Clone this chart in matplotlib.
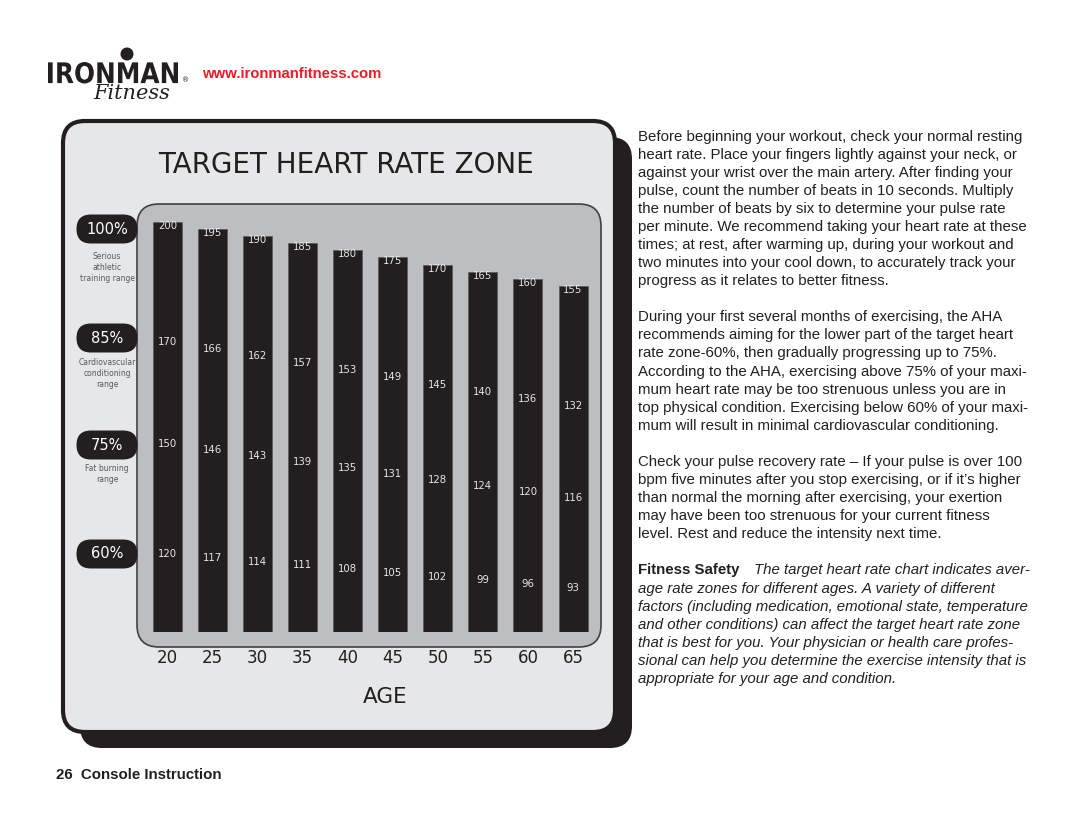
import numpy as np
import matplotlib
matplotlib.use('Agg')
import matplotlib.pyplot as plt
from matplotlib.patches import FancyBboxPatch, Circle, PathPatch
from matplotlib.textpath import TextPath
from matplotlib.font_manager import FontProperties
from matplotlib.transforms import Affine2D

# dados da tabela (batimentos por minuto por idade)
ages = [20, 25, 30, 35, 40, 45, 50, 55, 60, 65]
max_hr = [200, 195, 190, 185, 180, 175, 170, 165, 160, 155]
hr_85 = [170, 166, 162, 157, 153, 149, 145, 140, 136, 132]
hr_75 = [150, 146, 143, 139, 135, 131, 128, 124, 120, 116]
hr_60 = [120, 117, 114, 111, 108, 105, 102, 99, 96, 93]
zone_pct = ['100%', '85%', '75%', '60%']
zone_desc = ['Serious\nathletic\ntraining range', 'Cardiovascular\nconditioning\nrange',
             'Fat burning\nrange', '']

para_lines = [
    "Before beginning your workout, check your normal resting",
    "heart rate. Place your fingers lightly against your neck, or",
    "against your wrist over the main artery. After finding your",
    "pulse, count the number of beats in 10 seconds. Multiply",
    "the number of beats by six to determine your pulse rate",
    "per minute. We recommend taking your heart rate at these",
    "times; at rest, after warming up, during your workout and",
    "two minutes into your cool down, to accurately track your",
    "progress as it relates to better fitness.",
    "",
    "During your first several months of exercising, the AHA",
    "recommends aiming for the lower part of the target heart",
    "rate zone-60%, then gradually progressing up to 75%.",
    "According to the AHA, exercising above 75% of your maxi-",
    "mum heart rate may be too strenuous unless you are in",
    "top physical condition. Exercising below 60% of your maxi-",
    "mum will result in minimal cardiovascular conditioning.",
    "",
    "Check your pulse recovery rate \u2013 If your pulse is over 100",
    "bpm five minutes after you stop exercising, or if it\u2019s higher",
    "than normal the morning after exercising, your exertion",
    "may have been too strenuous for your current fitness",
    "level. Rest and reduce the intensity next time.",
    "",
]
safety_title = "Fitness Safety"
safety_lines = [
    "The target heart rate chart indicates aver-",
    "age rate zones for different ages. A variety of different",
    "factors (including medication, emotional state, temperature",
    "and other conditions) can affect the target heart rate zone",
    "that is best for you. Your physician or health care profes-",
    "sional can help you determine the exercise intensity that is",
    "appropriate for your age and condition.",
]

DARK = '#231f20'
PANEL = '#e6e7e8'
INNER = '#bcbec0'

plt.rcParams['font.family'] = ['DejaVu Sans']

fig = plt.figure(figsize=(10.8, 8.34), dpi=100)
fig.patch.set_facecolor('white')

# eixo de fundo em pixels (y para baixo)
bg = fig.add_axes([0, 0, 1, 1])
bg.set_xlim(0, 1080)
bg.set_ylim(834, 0)
bg.axis('off')

# logo
tp = TextPath((0, 0), "IRONMAN", size=30, prop=FontProperties(family='DejaVu Sans', weight='bold'))
bb = tp.get_extents()
tr = Affine2D().translate(-bb.x0, -bb.y0).scale(130 / bb.width, -21.5 / bb.height).translate(48, 83.5)
bg.add_patch(PathPatch(tr.transform_path(tp), fc=DARK, ec='none'))
bg.add_patch(Circle((127, 54), 6.5, fc=DARK, ec='none'))
bg.text(182, 82, '\u00ae', fontsize=5, color=DARK, va='baseline')
bg.text(93, 99, 'Fitness', fontsize=15, family='DejaVu Serif', style='italic', color=DARK, va='baseline')
bg.text(202, 74, 'www.ironmanfitness.com', fontsize=10.7, family='Liberation Sans', weight='bold',
        color='#ed1c24', va='center')

# painel do grafico
bg.add_patch(FancyBboxPatch((80, 137), 552, 611, boxstyle='round,pad=0,rounding_size=22', fc=DARK, ec='none'))
bg.add_patch(FancyBboxPatch((63, 121), 552, 611, boxstyle='round,pad=0,rounding_size=22', fc=PANEL, ec=DARK, lw=3))
bg.add_patch(FancyBboxPatch((137, 204), 464, 443, boxstyle='round,pad=0,rounding_size=22', fc=INNER, ec='#414042', lw=1.2))

bg.text(346, 172.7, 'TARGET HEART RATE ZONE', ha='center', va='baseline', fontsize=20, color=DARK)
bg.text(385.5, 703.3, 'AGE', ha='center', va='baseline', fontsize=15.5, color=DARK)

# etiquetas das zonas
pill_y = [229, 338, 445, 554]
desc_top = [252, 357.5, 463.5, 0]
for pct, desc, py, dt in zip(zone_pct, zone_desc, pill_y, desc_top):
    bg.add_patch(FancyBboxPatch((76.5, py - 14.5), 61, 29, boxstyle='round,pad=0,rounding_size=14.5',
                                fc=DARK, ec='none'))
    bg.text(107, py, pct, ha='center', va='center', fontsize=10.5, color='white')
    if desc:
        bg.text(107, dt, desc, ha='center', va='top', fontsize=5.5, color='#58595b', linespacing=1.3)

# barras
px_bpm = 1.42
px_age = 9.012
ylo = max_hr[0] - (632 - 222) / px_bpm
yhi = max_hr[0] + (222 - 212) / px_bpm
xlo = ages[0] - (167.5 - 145) / px_age
xhi = xlo + 450 / px_age

ax = fig.add_axes([145 / 1080, 1 - 632 / 834, 450 / 1080, 420 / 834])
ax.set_facecolor('none')
ax.set_zorder(2)
ax.set_xlim(xlo, xhi)
ax.set_ylim(ylo, yhi)
ax.bar(ages, np.array(max_hr) - ylo, bottom=ylo, width=29 / px_age, color=DARK, edgecolor='#58595b', lw=0.5)
for s in ax.spines.values():
    s.set_visible(False)
ax.set_yticks([])
ax.set_xticks(ages)
ax.set_xticklabels([str(a) for a in ages])
ax.tick_params(axis='x', length=0, pad=12, labelsize=12, labelcolor=DARK)

# numeros dentro das barras (distancia em px a partir do topo)
rows = [(max_hr, np.full(10, 4.0)), (hr_85, np.full(10, 120.0)),
        (hr_75, np.linspace(222, 212, 10)), (hr_60, np.linspace(332, 302, 10))]
for vals, drops in rows:
    for a, top, v, d in zip(ages, max_hr, vals, drops):
        ax.annotate(str(v), xy=(a, top), xytext=(0, -d * 0.72), textcoords='offset points',
                    ha='center', va='center', fontsize=7.3, color=PANEL)

# texto da direita
lh = 18.08
y0 = 140.5
for i, line in enumerate(para_lines):
    if line:
        bg.text(638, y0 + i * lh, line, fontsize=10.8, family='Liberation Sans', color=DARK, va='baseline')
n0 = len(para_lines)
bg.text(638, y0 + n0 * lh, safety_title, fontsize=10.8, family='Liberation Sans', weight='bold',
        color=DARK, va='baseline')
for i, line in enumerate(safety_lines):
    bg.text(754 if i == 0 else 638, y0 + (n0 + i) * lh, line, fontsize=10.8, family='Liberation Sans',
            style='italic', color=DARK, va='baseline')

bg.text(56, 779, '26  Console Instruction', fontsize=10.8, family='Liberation Sans', weight='bold',
        color=DARK, va='baseline')

fig.savefig('out.png', dpi=100)
